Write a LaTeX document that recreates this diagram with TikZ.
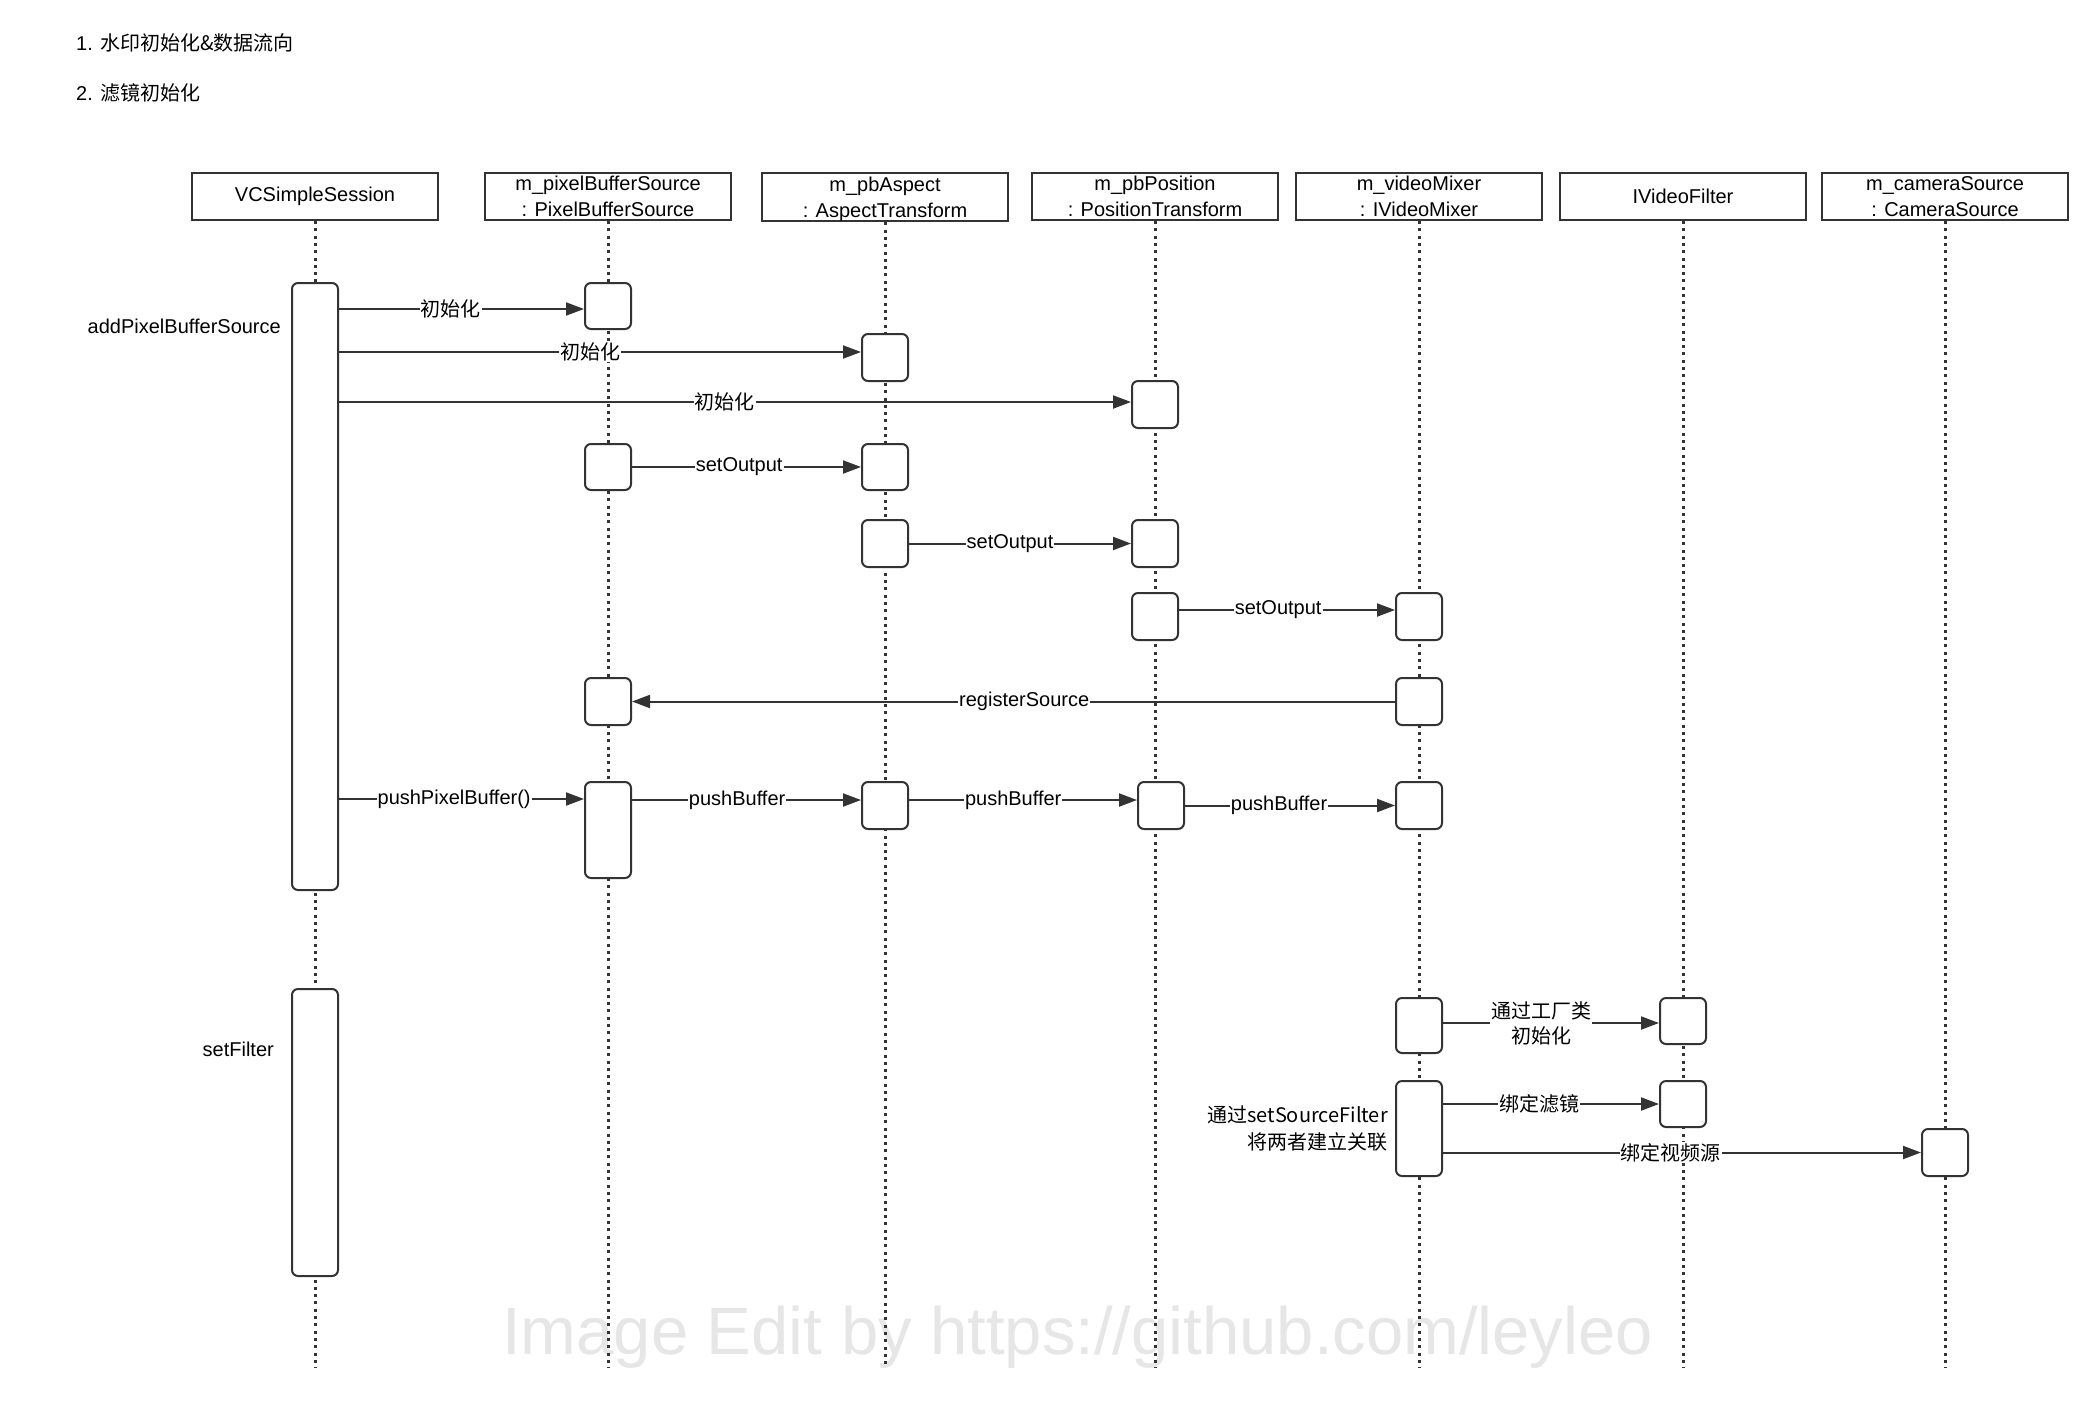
\documentclass[tikz,border=0pt]{standalone}
\usepackage{fontspec}
\setmainfont{Liberation Sans}
\newfontfamily\cjk{Noto Sans CJK SC}
\usetikzlibrary{arrows.meta,calc}
\definecolor{ln}{HTML}{333333}
\definecolor{wm}{HTML}{E6E6E6}
\begin{document}
\begin{tikzpicture}[x=1pt,y=-1pt,
  every node/.style={font=\fontsize{20}{26}\selectfont},
  head/.style={draw=ln, line width=2pt, minimum width=246pt, minimum height=47pt, inner sep=0pt, align=center, anchor=north, fill=white},
  life/.style={draw=ln, line width=3pt, dash pattern=on 3pt off 4.3pt},
  act/.style={draw=ln, line width=2pt, fill=white, rounded corners=6pt, minimum width=46pt, inner sep=0pt, anchor=north},
  msg/.style={draw=ln, line width=2pt, -{Triangle[length=18pt,width=13pt]}},
  lbl/.style={fill=white, inner sep=1pt, text=black},
  note/.style={inner sep=0pt, text=black}]
\useasboundingbox (0,0) rectangle (2100,1400);
\fill[white] (0,0) rectangle (2100,1400);

% headings
\node[note, anchor=west] (t1) at (76,43) {1. \cjk{水印初始化\&数据流向}};
\node[note, anchor=west] (t2) at (76,93) {2. \cjk{滤镜初始化}};

% watermark
\node[anchor=base west, inner sep=0pt, text=wm, font=\fontsize{67}{70}\selectfont] (wmk) at (502,1354) {Image Edit by https://github.com/leyleo};

% lifeline headers
\node[head] (h1) at (315,172) {VCSimpleSession};
\node[head] (h2) at (608,172) {m\_pixelBufferSource\\: PixelBufferSource};
\node[head] (h3) at (885,172) {m\_pbAspect\strut\\: AspectTransform};
\node[head] (h4) at (1155,172) {m\_pbPosition\\: PositionTransform};
\node[head] (h5) at (1419,172) {m\_videoMixer\\: IVideoMixer};
\node[head] (h6) at (1683,172) {IVideoFilter};
\node[head] (h7) at (1945,172) {m\_cameraSource\\: CameraSource};

\coordinate (bottom) at (0,1368);
\foreach \h in {h1,h2,h3,h4,h5,h6,h7}
  \draw[life] (\h.south) -- (\h.south |- bottom);

% activations
\node[act, minimum height=607pt] (vcs1) at (315,282) {};
\node[act, minimum height=287pt] (vcs2) at (315,988) {};
\node[act, minimum height=46pt] (pb1) at (608,282) {};
\node[act, minimum height=46pt] (pb2) at (608,443) {};
\node[act, minimum height=47pt] (pb3) at (608,677) {};
\node[act, minimum height=96pt] (pb4) at (608,781) {};
\node[act, minimum height=47pt] (as1) at (885,333) {};
\node[act, minimum height=46pt] (as2) at (885,443) {};
\node[act, minimum height=47pt] (as3) at (885,519) {};
\node[act, minimum height=47pt] (as4) at (885,781) {};
\node[act, minimum height=47pt] (pos1) at (1155,380) {};
\node[act, minimum height=47pt] (pos2) at (1155,519) {};
\node[act, minimum height=47pt] (pos3) at (1155,592) {};
\node[act, minimum height=47pt] (pos4) at (1161,781) {};
\node[act, minimum height=47pt] (mix1) at (1419,592) {};
\node[act, minimum height=47pt] (mix2) at (1419,677) {};
\node[act, minimum height=47pt] (mix3) at (1419,781) {};
\node[act, minimum height=55pt] (mix4) at (1419,997) {};
\node[act, minimum height=95pt] (mix5) at (1419,1080) {};
\node[act, minimum height=46pt] (f1) at (1683,997) {};
\node[act, minimum height=46pt] (f2) at (1683,1080) {};
\node[act, minimum height=47pt] (cam1) at (1945,1128) {};

% message end points
\coordinate (m1) at ([yshift=-3pt]pb1.west);
\coordinate (m2) at ([yshift=5.5pt]as1.west);
\coordinate (m3) at ([yshift=2.5pt]pos1.west);
\coordinate (m6) at ([yshift=6.5pt]mix1.west);
\coordinate (m8) at ([yshift=-18pt]pb4.north west);
\coordinate (m9) at ([yshift=5.5pt]as4.west);
\coordinate (m10) at ([yshift=5.5pt]pos4.west);
\coordinate (m12) at ([yshift=-2pt]f1.west);

% messages
\draw[msg] (vcs1.east |- m1) -- node[lbl, pos=0.457] {\cjk{初始化}} (m1);
\draw[msg] (vcs1.east |- m2) -- node[lbl, pos=0.481] {\cjk{初始化}} (m2);
\draw[msg] (vcs1.east |- m3) -- node[lbl, pos=0.487] {\cjk{初始化}} (m3);
\draw[msg] (pb2.east) -- node[lbl, pos=0.468] {setOutput} (as2.west);
\draw[msg] (as3.east) -- node[lbl, pos=0.455] {setOutput} (pos2.west);
\draw[msg] (pos3.east |- m6) -- node[lbl, pos=0.459] {setOutput} (m6);
\draw[msg] (mix2.west) -- node[lbl, pos=0.486] {registerSource} (pb3.east);
\draw[msg] (vcs1.east |- m8) -- node[lbl, pos=0.47] {pushPixelBuffer()} (m8);
\draw[msg] (pb4.east |- m9) -- node[lbl, pos=0.459] {pushBuffer} (m9);
\draw[msg] (as4.east |- m10) -- node[lbl, pos=0.457] {pushBuffer} (m10);
\draw[msg] (pos4.east) -- node[lbl, pos=0.448] {pushBuffer} (mix3.west);
\draw[msg] (mix4.east |- m12) -- node[lbl, pos=0.454, align=center, font=\fontsize{20}{25}\selectfont] {\cjk{通过工厂类}\\\cjk{初始化}} (m12);
\draw[msg] (mix5.east |- f2.west) -- node[lbl, pos=0.445] {\cjk{绑定滤镜}} (f2.west);
\draw[msg] (mix5.east |- cam1.west) -- node[lbl, pos=0.476] {\cjk{绑定视频源}} (cam1.west);

% notes
\node[note, anchor=east] (n1) at (281,326) {addPixelBufferSource};
\node[note, anchor=east] (n2) at (274,1049) {setFilter};
\node[note, anchor=east, align=right, font=\fontsize{20}{27}\selectfont] (n3) at (1388,1128) {\cjk{通过}setSourceFilter\\\cjk{将两者建立关联}};
\end{tikzpicture}
\end{document}
